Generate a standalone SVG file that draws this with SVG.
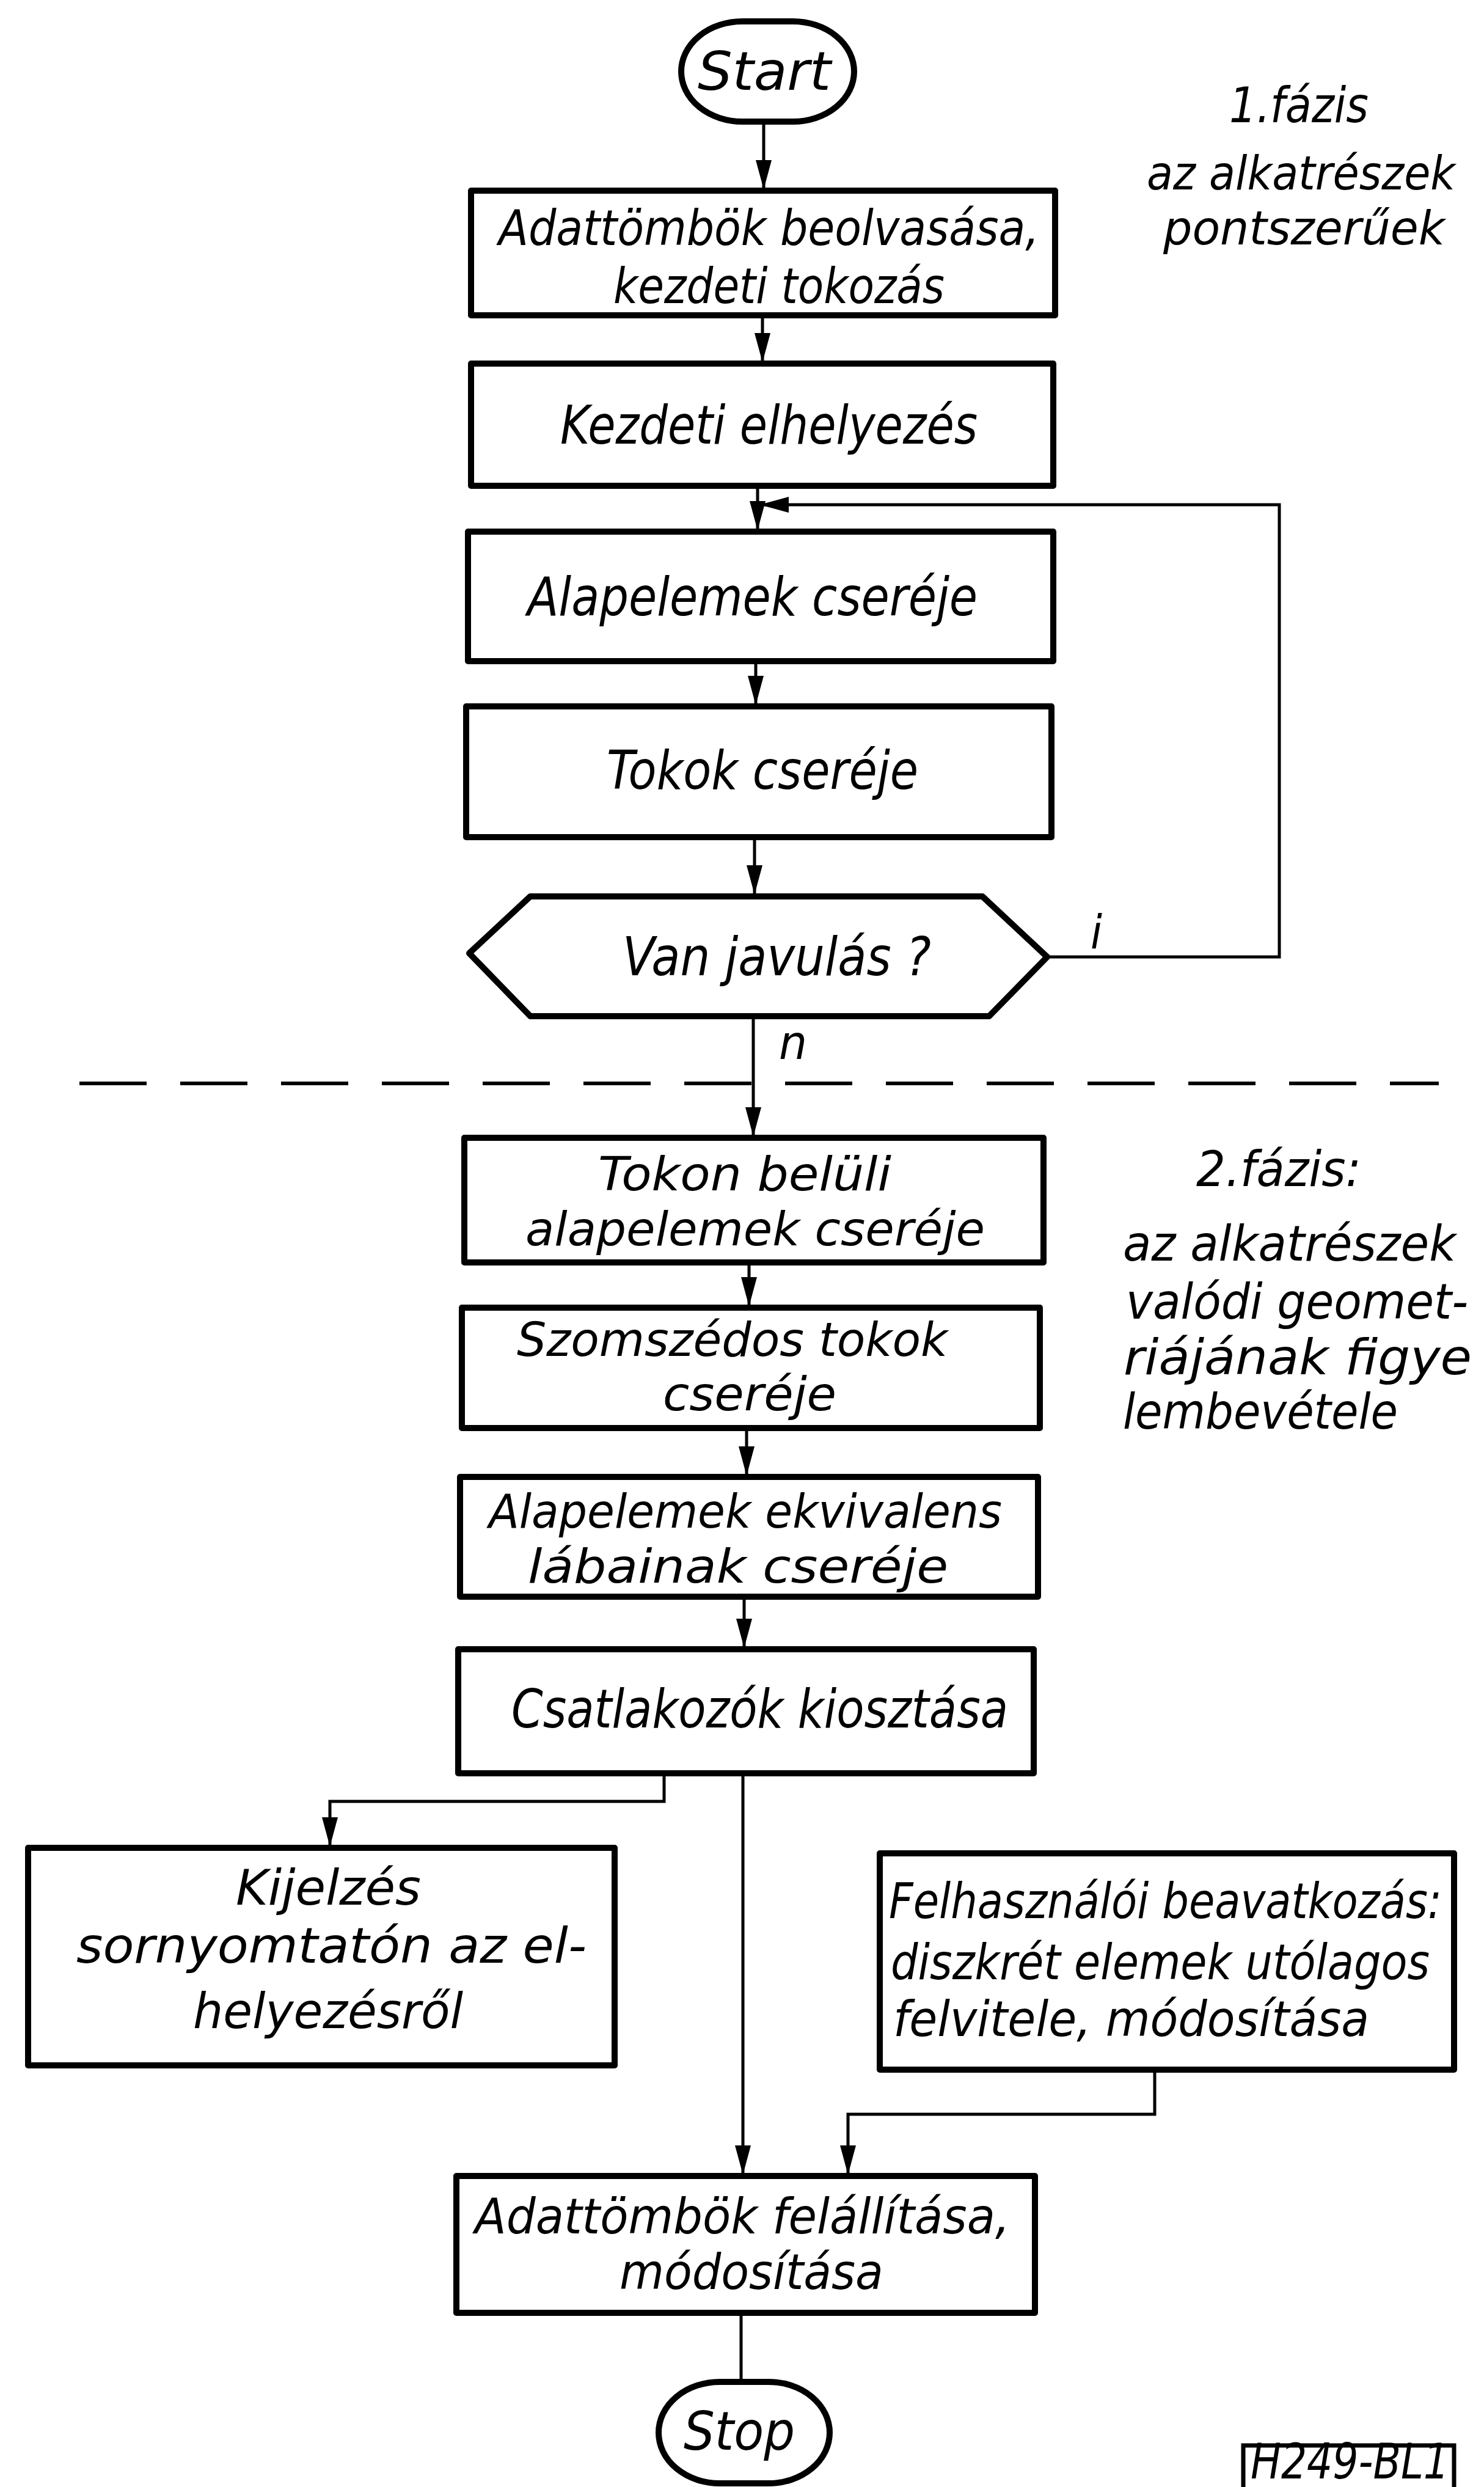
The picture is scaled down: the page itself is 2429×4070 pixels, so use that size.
<svg xmlns="http://www.w3.org/2000/svg" width="2429" height="4070" viewBox="0 0 2429 4070">
<style>
.box{fill:none;stroke:#000;stroke-width:10;stroke-linejoin:round}
.conn{fill:none;stroke:#000;stroke-width:5}
.dash{fill:none;stroke:#000;stroke-width:6;stroke-dasharray:110 55}
.t{font-family:"DejaVu Sans Condensed","DejaVu Sans",sans-serif;font-style:oblique;font-size:80px;fill:#000}
.b{font-size:88px}
.s{font-size:76px}
</style>
<defs>
<marker id="arr" viewBox="0 0 48 26" refX="48" refY="13" markerWidth="48" markerHeight="26" markerUnits="userSpaceOnUse" orient="auto">
<path d="M0,0 L48,13 L0,26 z" fill="#000"/>
</marker>
</defs>
<rect x="0" y="0" width="2429" height="4070" fill="#fff"/>

<g id="connectors">
<line class="conn" x1="1250" y1="199" x2="1250" y2="310" marker-end="url(#arr)"/>
<line class="conn" x1="1248" y1="516" x2="1248" y2="593" marker-end="url(#arr)"/>
<line class="conn" x1="1240" y1="795" x2="1240" y2="868" marker-end="url(#arr)"/>
<polyline class="conn" points="1714,1566 2094,1566 2094,826 1243,826" marker-end="url(#arr)"/>
<line class="conn" x1="1237" y1="1082" x2="1237" y2="1154" marker-end="url(#arr)"/>
<line class="conn" x1="1235" y1="1370" x2="1235" y2="1464" marker-end="url(#arr)"/>
<line class="conn" x1="1233" y1="1663" x2="1233" y2="1860" marker-end="url(#arr)"/>
<line class="conn" x1="1226" y1="2066" x2="1226" y2="2138" marker-end="url(#arr)"/>
<line class="conn" x1="1222" y1="2337" x2="1222" y2="2415" marker-end="url(#arr)"/>
<line class="conn" x1="1218" y1="2613" x2="1218" y2="2697" marker-end="url(#arr)"/>
<polyline class="conn" points="1087,2902 1087,2948 540,2948 540,3022" marker-end="url(#arr)"/>
<line class="conn" x1="1216" y1="2902" x2="1216" y2="3559" marker-end="url(#arr)"/>
<polyline class="conn" points="1890,3387 1890,3460 1388,3460 1388,3559" marker-end="url(#arr)"/>
<line class="conn" x1="1213" y1="3785" x2="1213" y2="3898"/>
<text class="t s" x="1785" y="1552">i</text>
<text class="t s" x="1275" y="1733" textLength="46" lengthAdjust="spacingAndGlyphs">n</text>
</g>

<line id="phase-divider" class="dash" x1="130" y1="1773" x2="2355" y2="1773"/>

<g id="start">
<rect class="box" x="1115" y="35" width="283" height="164" rx="100" ry="82"/>
<text class="t b" x="1142" y="147" textLength="218" lengthAdjust="spacingAndGlyphs">Start</text>
</g>

<g id="n1">
<rect class="box" x="771" y="312" width="956" height="204"/>
<text class="t" x="816" y="401" textLength="885" lengthAdjust="spacingAndGlyphs">Adattömbök beolvasása,</text>
<text class="t" x="1004" y="496" textLength="542" lengthAdjust="spacingAndGlyphs">kezdeti tokozás</text>
</g>

<g id="n2">
<rect class="box" x="771" y="595" width="953" height="200"/>
<text class="t b" x="917" y="726" textLength="683" lengthAdjust="spacingAndGlyphs">Kezdeti elhelyezés</text>
</g>

<g id="n3">
<rect class="box" x="766" y="870" width="958" height="212"/>
<text class="t b" x="863" y="1007" textLength="737" lengthAdjust="spacingAndGlyphs">Alapelemek cseréje</text>
</g>

<g id="n4">
<rect class="box" x="763" y="1156" width="958" height="214"/>
<text class="t b" x="993" y="1291" textLength="510" lengthAdjust="spacingAndGlyphs">Tokok cseréje</text>
</g>

<g id="decision">
<polygon class="box" points="868,1467 1608,1467 1714,1566 1619,1663 868,1663 768,1560"/>
<text class="t b" x="1019" y="1596" textLength="505" lengthAdjust="spacingAndGlyphs">Van javulás ?</text>
</g>

<g id="n5">
<rect class="box" x="760" y="1862" width="948" height="204"/>
<text class="t s" x="979" y="1948" textLength="480" lengthAdjust="spacingAndGlyphs">Tokon belüli</text>
<text class="t s" x="860" y="2038" textLength="752" lengthAdjust="spacingAndGlyphs">alapelemek cseréje</text>
</g>

<g id="n6">
<rect class="box" x="756" y="2140" width="946" height="197"/>
<text class="t s" x="846" y="2219" textLength="705" lengthAdjust="spacingAndGlyphs">Szomszédos tokok</text>
<text class="t s" x="1085" y="2308" textLength="284" lengthAdjust="spacingAndGlyphs">cseréje</text>
</g>

<g id="n7">
<rect class="box" x="753" y="2417" width="946" height="196"/>
<text class="t s" x="800" y="2500" textLength="840" lengthAdjust="spacingAndGlyphs">Alapelemek ekvivalens</text>
<text class="t s" x="864" y="2590" textLength="688" lengthAdjust="spacingAndGlyphs">lábainak cseréje</text>
</g>

<g id="n8">
<rect class="box" x="750" y="2699" width="942" height="203"/>
<text class="t b" x="837" y="2827" textLength="813" lengthAdjust="spacingAndGlyphs">Csatlakozók kiosztása</text>
</g>

<g id="n-kijelzes">
<rect class="box" x="46" y="3024" width="960" height="356"/>
<text class="t" x="386" y="3117" textLength="303" lengthAdjust="spacingAndGlyphs">Kijelzés</text>
<text class="t" x="125" y="3212" textLength="835" lengthAdjust="spacingAndGlyphs">sornyomtatón az el-</text>
<text class="t" x="316" y="3319" textLength="442" lengthAdjust="spacingAndGlyphs">helyezésről</text>
</g>

<g id="n-felhasznaloi">
<rect class="box" x="1440" y="3033" width="940" height="354"/>
<text class="t" x="1455" y="3139" textLength="905" lengthAdjust="spacingAndGlyphs">Felhasználói beavatkozás:</text>
<text class="t" x="1458" y="3239" textLength="882" lengthAdjust="spacingAndGlyphs">diszkrét elemek utólagos</text>
<text class="t" x="1462" y="3332" textLength="779" lengthAdjust="spacingAndGlyphs">felvitele, módosítása</text>
</g>

<g id="n9">
<rect class="box" x="747" y="3561" width="947" height="224"/>
<text class="t" x="777" y="3655" textLength="876" lengthAdjust="spacingAndGlyphs">Adattömbök felállítása,</text>
<text class="t" x="1014" y="3746" textLength="432" lengthAdjust="spacingAndGlyphs">módosítása</text>
</g>

<g id="stop">
<rect class="box" x="1078" y="3898" width="280" height="166" rx="100" ry="83"/>
<text class="t b" x="1119" y="4009" textLength="182" lengthAdjust="spacingAndGlyphs">Stop</text>
</g>

<g id="phase1-label">
<text class="t" x="2012" y="200" textLength="228" lengthAdjust="spacingAndGlyphs">1.fázis</text>
<text class="t s" x="1877" y="310" textLength="505" lengthAdjust="spacingAndGlyphs">az alkatrészek</text>
<text class="t s" x="1904" y="400" textLength="461" lengthAdjust="spacingAndGlyphs">pontszerűek</text>
</g>

<g id="phase2-label">
<text class="t" x="1958" y="1941" textLength="270" lengthAdjust="spacingAndGlyphs">2.fázis:</text>
<text class="t" x="1838" y="2063" textLength="545" lengthAdjust="spacingAndGlyphs">az alkatrészek</text>
<text class="t" x="1843" y="2158" textLength="560" lengthAdjust="spacingAndGlyphs">valódi geomet-</text>
<text class="t" x="1839" y="2249" textLength="570" lengthAdjust="spacingAndGlyphs">riájának figye</text>
<text class="t" x="1838" y="2338" textLength="450" lengthAdjust="spacingAndGlyphs">lembevétele</text>
</g>

<g id="figure-code">
<rect x="2035" y="4002" width="345" height="80" fill="none" stroke="#000" stroke-width="7"/>
<text class="t" x="2047" y="4056" font-size="68" textLength="325" lengthAdjust="spacingAndGlyphs">H249-BL1</text>
</g>
</svg>
